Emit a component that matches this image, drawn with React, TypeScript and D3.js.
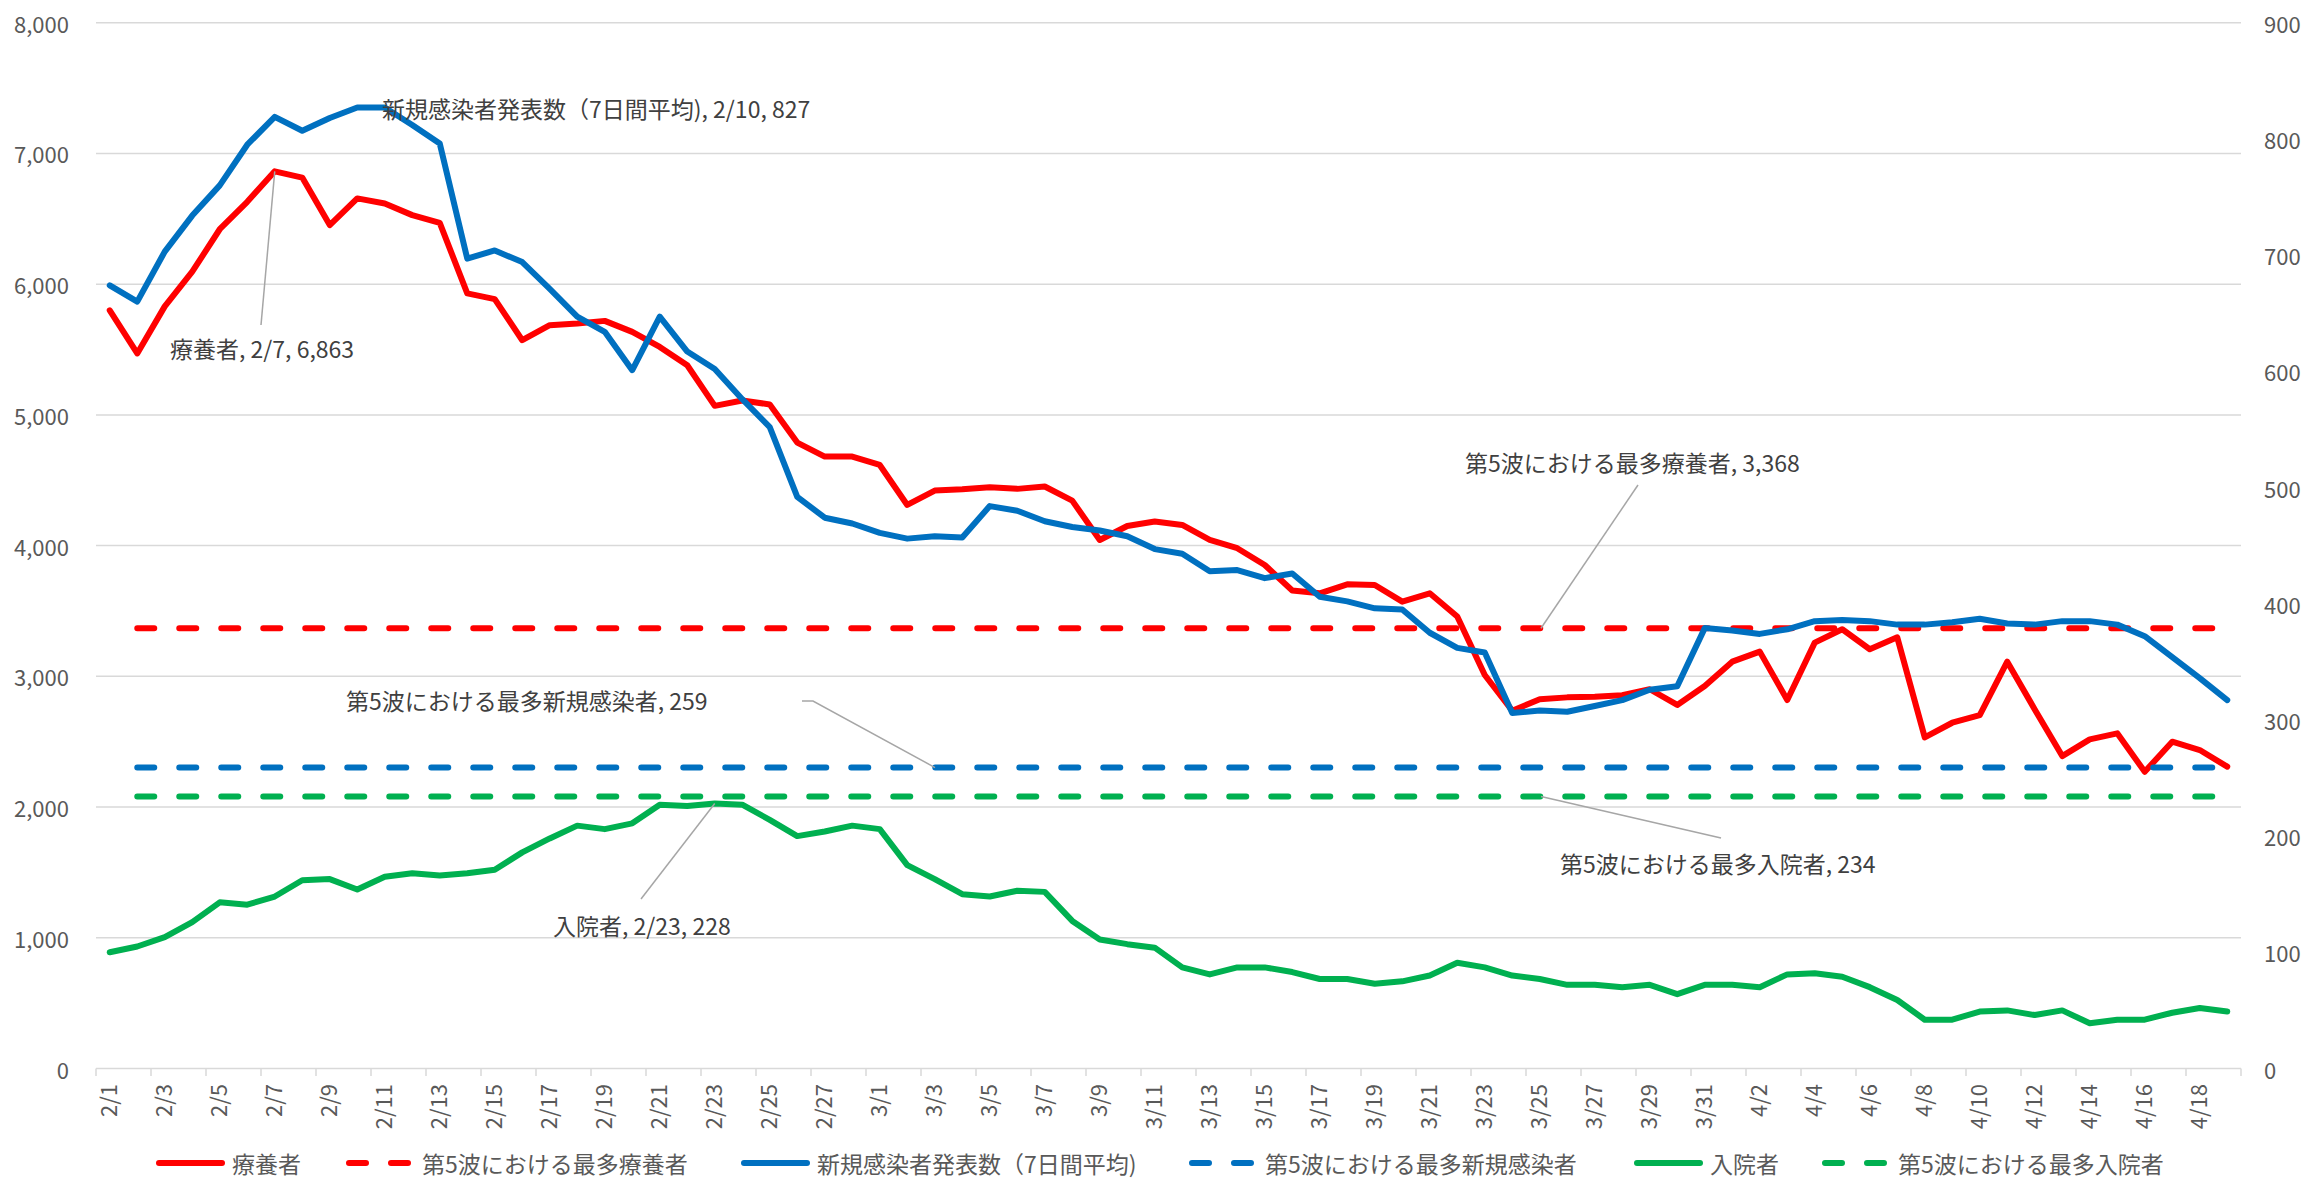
import * as d3 from "d3";

// categories: 2/1 .. 4/19
const dates = d3.timeDay.range(new Date(2022, 1, 1), new Date(2022, 3, 20));
const dateLabels = dates.map((d) => `${d.getMonth() + 1}/${d.getDate()}`);

// 療養者 (left axis)
const ryoyo = [
  5800, 5470, 5830, 6095, 6420, 6630, 6863, 6815, 6452, 6656, 6617, 6528, 6469, 5929, 5885, 5571,
  5686, 5699, 5719, 5635, 5520, 5380, 5069, 5110, 5080, 4788, 4681, 4681, 4617, 4311, 4421, 4431,
  4446, 4434, 4452, 4344, 4043, 4150, 4184, 4158, 4043, 3980, 3852, 3656, 3635, 3704, 3699, 3571,
  3635, 3457, 3010, 2737, 2824, 2839, 2844, 2855, 2901, 2781, 2926, 3112, 3189, 2819, 3258, 3360,
  3207, 3298, 2533, 2645, 2704, 3112, 2747, 2390, 2518, 2564, 2270, 2500, 2436, 2309,
];

// 新規感染者発表数（7日間平均）(right axis)
const shinki = [
  674, 660, 703, 734, 760, 795, 819, 807, 818, 827, 827, 812, 796, 697, 704, 694,
  671, 647, 634, 601, 647, 617, 602, 576, 552, 492, 474, 469, 461, 456, 458, 457,
  484, 480, 471, 466, 463, 458, 447, 443, 428, 429, 422, 426, 406, 402, 396, 395,
  375, 362, 358, 306, 308, 307, 312, 317, 326, 329, 379, 377, 374, 378, 385, 386,
  385, 382, 382, 384, 387, 383, 382, 385, 385, 382, 372, 354, 336, 317,
];

// 入院者 (right axis)
const nyuin = [
  100, 105, 113, 126, 143, 141, 148, 162, 163, 154, 165, 168, 166, 168, 171, 186,
  198, 209, 206, 211, 227, 226, 228, 227, 214, 200, 204, 209, 206, 175, 163, 150,
  148, 153, 152, 127, 111, 107, 104, 87, 81, 87, 87, 83, 77, 77, 73, 75,
  80, 91, 87, 80, 77, 72, 72, 70, 72, 64, 72, 72, 70, 81, 82, 79,
  70, 59, 42, 42, 49, 50, 46, 50, 39, 42, 42, 48, 52, 49,
];

// 第5波における最多値
const peakRyoyo = 3368;
const peakShinki = 259;
const peakNyuin = 234;

const leftTicks = [0, 1000, 2000, 3000, 4000, 5000, 6000, 7000, 8000];
const rightTicks = [0, 100, 200, 300, 400, 500, 600, 700, 800, 900];

const RED = "#FF0000";
const BLUE = "#0070C0";
const GREEN = "#00B050";
const FONT = "'Noto Sans CJK JP', 'Noto Sans', sans-serif";

const W = 2305;
const H = 1182;

export default function App() {
  const n = dates.length;
  const x = d3.scaleBand<number>().domain(d3.range(n)).range([96, 2241]).padding(0);
  const cx = (i: number) => (x(i) as number) + x.bandwidth() / 2;
  const yL = d3.scaleLinear().domain([0, 8000]).range([1068.5, 22.7]);
  const yR = d3.scaleLinear().domain([0, 900]).range([1068.5, 22.7]);

  const lineL = d3.line<number>().x((_, i) => cx(i)).y((d) => yL(d));
  const lineR = d3.line<number>().x((_, i) => cx(i)).y((d) => yR(d));
  // dashed reference lines run from 2/2 to the last day
  const flat = (y: number) =>
    d3.line<number>().x((i) => cx(i)).y(() => y)(d3.range(1, n));

  const series = [
    { d: lineL(ryoyo), color: RED, dash: null },
    { d: flat(yL(peakRyoyo)), color: RED, dash: "17 25" },
    { d: lineR(shinki), color: BLUE, dash: null },
    { d: flat(yR(peakShinki)), color: BLUE, dash: "17 25" },
    { d: lineR(nyuin), color: GREEN, dash: null },
    { d: flat(yR(peakNyuin)), color: GREEN, dash: "17 25" },
  ];

  const legend = [
    { label: "療養者", color: RED, dash: null, x: 156 },
    { label: "第5波における最多療養者", color: RED, dash: "17 25", x: 346 },
    { label: "新規感染者発表数（7日間平均)", color: BLUE, dash: null, x: 741 },
    { label: "第5波における最多新規感染者", color: BLUE, dash: "17 25", x: 1189 },
    { label: "入院者", color: GREEN, dash: null, x: 1634 },
    { label: "第5波における最多入院者", color: GREEN, dash: "17 25", x: 1822 },
  ];

  const iRyoyoMax = 6; // 2/7
  const iShinkiMax = 9; // 2/10
  const iNyuinMax = 22; // 2/23
  const fmt = d3.format(",");

  const leader = "#A6A6A6";
  const labelColor = "#404040";
  const legendY = 1163;

  return (
    <div style={{ position: "fixed", left: 0, top: 0 }}>
      <svg width={W} height={H} style={{ display: "block", background: "#fff" }} fontFamily={FONT}>
        {/* gridlines */}
        {leftTicks.map((t) => (
          <line key={t} x1={96} x2={2241} y1={yL(t)} y2={yL(t)} stroke="#D9D9D9" strokeWidth={1.5} />
        ))}
        {/* x ticks */}
        {d3.range(0, n + 1, 2).map((k) => {
          const xx = 96 + k * x.bandwidth();
          return <line key={k} x1={xx} x2={xx} y1={1068.5} y2={1076} stroke="#D9D9D9" strokeWidth={1.5} />;
        })}
        {/* left axis labels */}
        {leftTicks.map((t) => (
          <text key={t} x={69} y={yL(t)} textAnchor="end" dominantBaseline="central" fontSize={22} fill="#595959">
            {fmt(t)}
          </text>
        ))}
        {/* right axis labels */}
        {rightTicks.map((t) => (
          <text key={t} x={2264} y={yR(t)} textAnchor="start" dominantBaseline="central" fontSize={22} fill="#595959">
            {t}
          </text>
        ))}
        {/* x labels */}
        {dateLabels.map((l, i) =>
          i % 2 === 0 ? (
            <text
              key={l}
              transform={`translate(${cx(i)},1084) rotate(-90)`}
              textAnchor="end"
              dy="0.35em"
              fontSize={22}
              fill="#595959"
            >
              {l}
            </text>
          ) : null
        )}

        {/* series */}
        {series.map((s, k) => (
          <path
            key={k}
            d={s.d || ""}
            fill="none"
            stroke={s.color}
            strokeWidth={6}
            strokeLinejoin="round"
            strokeLinecap="round"
            strokeDasharray={s.dash || undefined}
          />
        ))}

        {/* annotations */}
        <g fontSize={23} fill={labelColor}>
          <line x1={261} y1={325} x2={cx(iRyoyoMax)} y2={yL(ryoyo[iRyoyoMax])} stroke={leader} strokeWidth={1.5} />
          <text x={170} y={348} dominantBaseline="central">
            {`療養者, ${dateLabels[iRyoyoMax]}, ${fmt(ryoyo[iRyoyoMax])}`}
          </text>

          <text x={382} y={yR(shinki[iShinkiMax])} dominantBaseline="central">
            {`新規感染者発表数（7日間平均), ${dateLabels[iShinkiMax]}, ${shinki[iShinkiMax]}`}
          </text>

          <line x1={641} y1={899} x2={cx(iNyuinMax)} y2={yR(nyuin[iNyuinMax])} stroke={leader} strokeWidth={1.5} />
          <text x={553} y={925} dominantBaseline="central">
            {`入院者, ${dateLabels[iNyuinMax]}, ${nyuin[iNyuinMax]}`}
          </text>

          <polyline
            points={`802,701 813,701 935,${yR(peakShinki)}`}
            fill="none"
            stroke={leader}
            strokeWidth={1.5}
          />
          <text x={346} y={700} dominantBaseline="central">
            {`第5波における最多新規感染者, ${peakShinki}`}
          </text>

          <line x1={1638} y1={485} x2={1541} y2={yL(peakRyoyo)} stroke={leader} strokeWidth={1.5} />
          <text x={1465} y={462} dominantBaseline="central">
            {`第5波における最多療養者, ${fmt(peakRyoyo)}`}
          </text>

          <line x1={1541} y1={yR(peakNyuin)} x2={1721} y2={838} stroke={leader} strokeWidth={1.5} />
          <text x={1560} y={863} dominantBaseline="central">
            {`第5波における最多入院者, ${peakNyuin}`}
          </text>
        </g>

        {/* legend */}
        <g fontSize={23} fill="#595959">
          {legend.map((l) => (
            <g key={l.label}>
              <line
                x1={l.x + 3}
                x2={l.x + 66}
                y1={legendY}
                y2={legendY}
                stroke={l.color}
                strokeWidth={6}
                strokeLinecap="round"
                strokeDasharray={l.dash || undefined}
              />
              <text x={l.x + 76} y={legendY} dominantBaseline="central">
                {l.label}
              </text>
            </g>
          ))}
        </g>
      </svg>
    </div>
  );
}
